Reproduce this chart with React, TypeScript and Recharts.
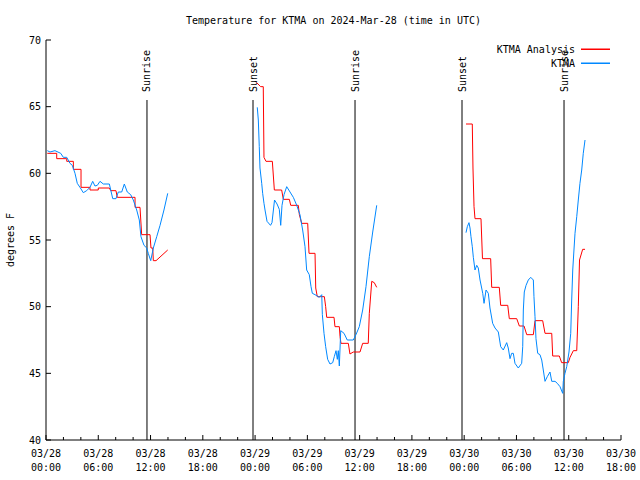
import React from "react";
import { LineChart, Line, XAxis, YAxis, ReferenceLine } from "recharts";

const FONT = "'DejaVu Sans Mono', monospace";
const RED = "#ff0000";
const BLUE = "#0088ff";

// time = hours since 03/28 00:00 UTC, value = degrees F
const analysisDay1: [number, number][] = [
  [0.15, 61.5], [1.23, 61.5], [1.23, 61.1], [2.38, 61.1], [2.38, 60.9], [3.14, 60.9],
  [3.14, 60.3], [4.02, 60.3], [4.02, 58.95], [5.05, 58.95], [5.05, 58.75], [6.0, 58.75],
  [6.0, 58.9], [7.27, 58.9], [7.43, 58.7], [8.03, 58.7], [8.18, 58.2], [10.22, 58.2],
  [10.22, 57.45], [10.79, 57.45], [10.98, 55.4], [11.94, 55.4], [12.05, 54.4], [12.25, 54.4],
  [12.32, 53.45], [12.63, 53.45], [13.97, 54.25],
];

const analysisDay2: [number, number][] = [
  [24.18, 66.8], [24.64, 66.5], [24.94, 66.5], [25.02, 61.2], [25.25, 60.9], [25.98, 60.9],
  [26.21, 58.75], [27.05, 58.75], [27.24, 58.05], [27.93, 58.05], [28.09, 57.6], [28.96, 57.6],
  [29.08, 56.9], [29.35, 56.25], [30.04, 56.25], [30.19, 54.0], [30.88, 54.0], [30.96, 51.4],
  [31.14, 50.75], [31.95, 50.75], [32.1, 50.0], [32.22, 49.2], [33.06, 49.2], [33.17, 48.5],
  [33.67, 48.5], [33.75, 47.75], [33.86, 47.25], [34.7, 47.25], [34.89, 46.45], [35.27, 46.6],
  [36.04, 46.6], [36.35, 47.25], [36.99, 47.25], [37.11, 49.5], [37.39, 51.9], [37.68, 51.8],
  [37.96, 51.45],
];

const analysisDay3: [number, number][] = [
  [48.21, 63.7], [48.93, 63.7], [49.01, 60.4], [49.13, 57.5], [49.24, 56.6], [49.93, 56.6],
  [50.1, 53.6], [51.04, 53.6], [51.16, 51.45], [52.03, 51.45], [52.19, 50.1], [53.0, 50.1],
  [53.18, 49.1], [54.03, 49.1], [54.33, 48.55], [54.87, 48.55], [55.18, 47.9], [55.94, 47.9],
  [56.13, 48.95], [57.01, 48.95], [57.28, 48.0], [58.05, 48.0], [58.16, 46.3], [58.92, 46.3],
  [59.19, 45.8], [59.95, 45.8], [60.15, 46.2], [60.53, 46.7], [60.92, 46.7], [61.1, 50.0],
  [61.24, 53.5], [61.6, 54.3], [61.87, 54.3],
];

const obsDay1: [number, number][] = [
  [0.15, 61.7], [0.46, 61.6], [1.03, 61.7], [1.69, 61.5], [1.99, 61.2], [2.38, 61.2],
  [2.75, 60.75], [3.02, 60.6], [3.33, 60.0], [3.59, 59.25], [3.9, 58.95], [4.28, 58.55],
  [4.67, 58.7], [5.05, 58.95], [5.36, 59.4], [5.62, 59.05], [5.89, 59.1], [6.2, 59.4],
  [6.58, 59.2], [7.27, 59.2], [7.43, 58.75], [7.66, 58.1], [8.03, 58.1], [8.3, 58.6],
  [8.69, 58.6], [8.99, 59.2], [9.33, 58.6], [9.72, 58.4], [10.02, 58.0], [10.41, 57.25],
  [10.71, 56.5], [10.9, 55.25], [11.25, 54.6], [11.56, 54.4], [11.74, 54.0], [12.02, 53.45],
  [12.32, 54.4], [12.71, 55.25], [13.09, 56.1], [13.54, 57.25], [13.97, 58.5],
];

const obsDay2: [number, number][] = [
  [24.25, 64.95], [24.37, 64.0], [24.48, 62.0], [24.56, 60.4], [24.76, 59.25], [24.87, 58.5],
  [25.02, 57.75], [25.14, 57.25], [25.37, 56.4], [25.77, 56.1], [25.94, 56.3], [26.23, 58.0],
  [26.52, 57.7], [26.78, 57.3], [26.94, 56.1], [27.09, 57.6], [27.32, 58.4], [27.63, 59.0],
  [28.01, 58.6], [28.39, 58.2], [28.78, 57.6], [29.15, 56.9], [29.46, 55.75], [29.73, 54.5],
  [29.92, 52.75], [30.22, 52.4], [30.42, 51.5], [30.57, 51.0], [30.88, 50.9], [31.37, 50.7],
  [31.65, 50.9], [31.72, 49.4], [31.91, 48.0], [32.1, 47.0], [32.33, 46.05], [32.6, 45.7],
  [32.91, 45.8], [33.09, 46.25], [33.29, 46.7], [33.44, 46.05], [33.55, 46.7], [33.67, 45.55],
  [33.83, 48.2], [34.21, 48.0], [34.58, 47.5], [35.27, 47.5], [35.58, 47.9], [35.96, 48.5],
  [36.35, 49.75], [36.73, 51.5], [37.11, 53.75], [37.5, 55.6], [37.96, 57.6],
];

const obsDay3: [number, number][] = [
  [48.21, 55.55], [48.36, 56.0], [48.55, 56.3], [48.67, 55.9], [48.78, 55.25], [48.93, 54.5],
  [49.05, 53.7], [49.24, 52.75], [49.44, 53.1], [49.62, 52.9], [49.82, 52.0], [50.13, 51.0],
  [50.28, 50.25], [50.51, 51.25], [50.77, 51.0], [50.96, 49.9], [51.27, 48.75], [51.54, 48.4],
  [51.92, 48.1], [52.19, 47.0], [52.49, 46.75], [52.88, 47.3], [53.06, 46.9], [53.26, 46.1],
  [53.45, 46.5], [53.64, 46.5], [53.83, 45.75], [54.21, 45.4], [54.6, 45.75], [54.72, 47.0],
  [54.79, 49.75], [54.9, 51.1], [55.1, 51.6], [55.36, 52.0], [55.64, 52.2], [55.94, 52.0],
  [56.01, 50.75], [56.13, 49.25], [56.24, 47.6], [56.44, 46.5], [56.7, 46.4], [56.9, 46.0],
  [57.08, 45.25], [57.28, 44.4], [57.54, 44.75], [57.85, 45.1], [58.05, 44.4], [58.43, 44.4],
  [58.69, 44.25], [59.0, 44.0], [59.31, 43.5], [59.38, 44.4], [59.57, 45.0], [59.77, 45.5],
  [60.03, 46.6], [60.23, 48.0], [60.34, 50.5], [60.46, 52.75], [60.53, 53.5], [60.72, 55.5],
  [60.92, 56.75], [61.1, 58.0], [61.29, 59.25], [61.49, 60.25], [61.67, 61.5], [61.87, 62.5],
];

const sunTimes = [11.59, 23.76, 35.47, 47.75, 59.46];
const sunLabels = ["Sunrise", "Sunset", "Sunrise", "Sunset", "Sunrise"];
const sunLineTop = 65.5;

const xTicks = [0, 2, 4, 6, 8, 10, 12, 14, 16, 18, 20, 22, 24, 26, 28, 30, 32, 34, 36, 38, 40, 42, 44, 46, 48, 50, 52, 54, 56, 58, 60, 62, 64, 66];
const yTicks = [40, 45, 50, 55, 60, 65, 70];

const seriesNames = ["KTMA Analysis", "KTMA"];
const seriesColors = [RED, BLUE];

const toPoints = (arr: [number, number][]) => arr.map(([h, t]) => ({ h, t }));

const segments = [
  { key: "a1", color: RED, data: toPoints(analysisDay1) },
  { key: "a2", color: RED, data: toPoints(analysisDay2) },
  { key: "a3", color: RED, data: toPoints(analysisDay3) },
  { key: "o1", color: BLUE, data: toPoints(obsDay1) },
  { key: "o2", color: BLUE, data: toPoints(obsDay2) },
  { key: "o3", color: BLUE, data: toPoints(obsDay3) },
];

const BottomTick = (props: any) => {
  const { x, y, payload } = props;
  const v = payload.value as number;
  const major = v % 6 === 0;
  const day = 28 + Math.floor(v / 24);
  const hh = String(v % 24).padStart(2, "0");
  return (
    <g>
      <line x1={x} x2={x} y1={y} y2={y - (major ? 5 : 3)} stroke="#000" />
      {major && (
        <text x={x} y={y + 17} textAnchor="middle" fontFamily={FONT} fontSize={10} fill="#000">
          <tspan x={x}>03/{day}</tspan>
          <tspan x={x} dy={14}>{hh}:00</tspan>
        </text>
      )}
    </g>
  );
};

const TopTick = (props: any) => {
  const { x, y, payload } = props;
  const major = (payload.value as number) % 6 === 0;
  return <line x1={x} x2={x} y1={y} y2={y + (major ? 5 : 3)} stroke="#000" />;
};

const LeftTick = (props: any) => {
  const { x, y, payload } = props;
  return (
    <g>
      <line x1={x} x2={x + 5} y1={y} y2={y} stroke="#000" />
      <text x={x - 5} y={y} dy="0.35em" textAnchor="end" fontFamily={FONT} fontSize={10} fill="#000">
        {payload.value}
      </text>
    </g>
  );
};

const RightTick = (props: any) => {
  const { x, y } = props;
  return <line x1={x - 5} x2={x} y1={y} y2={y} stroke="#000" />;
};

const SunLabel = (props: any) => {
  const { viewBox, text } = props;
  const x = viewBox.x;
  const y = viewBox.y - 8;
  return (
    <text x={x} y={y} dy="0.35em" transform={`rotate(-90, ${x}, ${y})`} textAnchor="start"
      fontFamily={FONT} fontSize={10} fill="#000">
      {text}
    </text>
  );
};

const KeyBox = () => (
  <svg width={130} height={28} style={{ position: "absolute", left: 480, top: 42, zIndex: 3 }}>
    {seriesNames.map((name, i) => {
      const cy = 7 + i * 14;
      return (
        <g key={name}>
          <text x={95} y={cy} dy="0.35em" textAnchor="end" fontFamily={FONT} fontSize={10} fill="#000">
            {name}
          </text>
          <rect x={101} y={cy - 0.5} width={29} height={1.5} fill={seriesColors[i]} />
        </g>
      );
    })}
  </svg>
);

export default function App() {
  return (
    <div style={{ position: "absolute", left: 0, top: 0, width: 640, height: 480, background: "#fff" }}>
      <div style={{ position: "absolute", left: 0, top: 14, width: 667, textAlign: "center",
        fontFamily: FONT, fontSize: 10, lineHeight: "14px", zIndex: 2 }}>
        Temperature for KTMA on 2024-Mar-28 (time in UTC)
      </div>
      <LineChart width={640} height={480} margin={{ top: 40, right: 19, bottom: 10, left: 6 }}>
        <XAxis xAxisId="b" type="number" dataKey="h" domain={[0, 66]} ticks={xTicks} interval={0}
          height={30} tickSize={0} tickMargin={0} tickLine={false} axisLine={{ stroke: "#000" }}
          tick={(p: any) => <BottomTick {...p} />} />
        <XAxis xAxisId="t" orientation="top" type="number" dataKey="h" domain={[0, 66]} ticks={xTicks}
          interval={0} height={0} tickSize={0} tickMargin={0} tickLine={false} axisLine={{ stroke: "#000" }}
          tick={(p: any) => <TopTick {...p} />} />
        <YAxis yAxisId="l" type="number" domain={[40, 70]} ticks={yTicks} interval={0} width={40}
          tickSize={0} tickMargin={0} tickLine={false} axisLine={{ stroke: "#000" }}
          tick={(p: any) => <LeftTick {...p} />}
          label={(p: any) => (
            <text x={10} y={p.viewBox.y + p.viewBox.height / 2} dy="0.35em" textAnchor="middle"
              transform={`rotate(-90, 10, ${p.viewBox.y + p.viewBox.height / 2})`}
              fontFamily={FONT} fontSize={10} fill="#000">degrees F</text>
          )} />
        <YAxis yAxisId="r" orientation="right" type="number" domain={[40, 70]} ticks={yTicks} interval={0}
          width={0} tickSize={0} tickMargin={0} tickLine={false} axisLine={{ stroke: "#000" }}
          tick={(p: any) => <RightTick {...p} />} />
        {sunTimes.map((h, i) => (
          <ReferenceLine key={`sun${i}`} xAxisId="b" yAxisId="l"
            segment={[{ x: h, y: sunLineTop }, { x: h, y: 40 }]} stroke="#000" strokeWidth={1}
            label={(p: any) => <SunLabel {...p} text={sunLabels[i]} />} />
        ))}
        {segments.map((s) => (
          <Line key={s.key} xAxisId="b" yAxisId="l" data={s.data} dataKey="t" type="linear"
            stroke={s.color} strokeWidth={1} dot={false} activeDot={false} isAnimationActive={false} />
        ))}
      </LineChart>
      <KeyBox />
    </div>
  );
}
